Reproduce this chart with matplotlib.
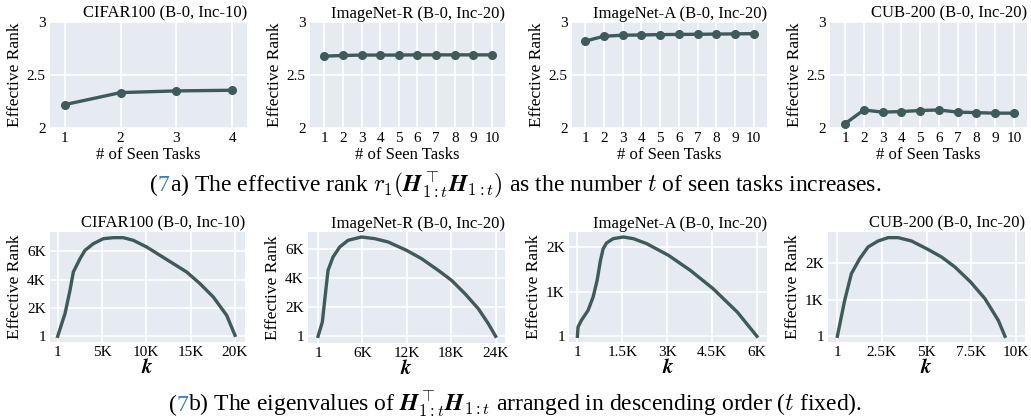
import matplotlib
matplotlib.use('Agg')
import matplotlib.pyplot as plt
from matplotlib.ticker import FixedLocator

plt.rcParams['font.family'] = ['Liberation Serif', 'DejaVu Serif']
plt.rcParams['mathtext.fontset'] = 'cm'

BG = '#e5eaf3'
LINE = '#3e5a5b'

titles = ['CIFAR100 (B-0, Inc-10)', 'ImageNet-R (B-0, Inc-20)',
          'ImageNet-A (B-0, Inc-20)', 'CUB-200 (B-0, Inc-20)']

# top row: effective rank vs number of seen tasks
tasks_cifar = [1, 2, 3, 4]
rank_cifar = [2.22, 2.334, 2.35, 2.356]
tasks_10 = [1, 2, 3, 4, 5, 6, 7, 8, 9, 10]
rank_inr = [2.678, 2.684, 2.688, 2.688, 2.688, 2.69, 2.69, 2.69, 2.69, 2.69]
rank_ina = [2.82, 2.866, 2.875, 2.878, 2.881, 2.883, 2.884, 2.886, 2.888, 2.89]
rank_cub = [2.04, 2.17, 2.15, 2.155, 2.165, 2.17, 2.15, 2.145, 2.14, 2.14]

# bottom row: eigenvalue curves (k, value)
k_cifar = [1, 639, 827, 1391, 1767, 2519, 3083, 4023, 5150, 6278, 7406, 8534,
           10038, 11541, 13045, 14549, 16053, 17556, 19060, 20000]
ev_cifar = [1, 1247, 1600, 3247, 4541, 5482, 6071, 6541, 6894, 6965, 6965, 6776,
            6306, 5718, 5129, 4541, 3718, 2776, 1482, 70]
k_inr = [1, 586, 902, 1353, 2030, 2932, 4060, 5865, 7669, 9474, 11955, 13985,
         16241, 18045, 19850, 21654, 23008, 24000]
ev_inr = [1, 989, 2483, 4552, 5471, 6161, 6621, 6851, 6736, 6506, 5931, 5356,
          4552, 3862, 2943, 1908, 874, 1]
k_ina = [1, 22, 134, 358, 526, 660, 772, 862, 974, 1198, 1534, 1869, 2317, 3045,
         3772, 4534, 5340, 6000]
ev_ina = [1, 209, 358, 582, 881, 1254, 1701, 1963, 2090, 2187, 2224, 2187, 2075,
          1813, 1478, 1067, 545, 1]
k_cub = [1, 412, 787, 1255, 1723, 2285, 2846, 3408, 4157, 5000, 5843, 6592, 7472,
         8277, 9026, 9401]
ev_cub = [1, 982, 1709, 2118, 2436, 2600, 2691, 2691, 2600, 2391, 2164, 1891,
          1482, 1027, 436, 1]

W, H = 1031, 419
fig = plt.figure(figsize=(W / 100, H / 100), dpi=100)

def box(l, t, r, b):
    return [l / W, 1 - b / H, (r - l) / W, (b - t) / H]

def style(ax):
    ax.set_facecolor(BG)
    for s in ax.spines.values():
        s.set_visible(False)
    ax.grid(True, color='white', linewidth=1.2)
    ax.set_axisbelow(True)
    ax.tick_params(length=0, labelsize=11, pad=3)

top_boxes = [(50, 22, 247, 128), (310, 22, 505, 128), (572, 22, 767, 128), (830, 22, 1027, 128)]
top_x = [tasks_cifar, tasks_10, tasks_10, tasks_10]
top_y = [rank_cifar, rank_inr, rank_ina, rank_cub]
top_xlim = [(0.74, 4.26), (0.23, 10.7), (0.29, 10.71), (0.2, 10.7)]
for i in range(4):
    ax = fig.add_axes(box(*top_boxes[i]))
    style(ax)
    ax.plot(top_x[i], top_y[i], color=LINE, linewidth=2.4, marker='o', markersize=5.5)
    ax.set_xlim(*top_xlim[i])
    ax.set_ylim(2, 3)
    ax.set_xticks(top_x[i])
    ax.set_yticks([2, 2.5, 3])
    ax.set_yticklabels(['2', '2.5', '3'])
    ax.set_title(titles[i], fontsize=12, loc='right', pad=3)
    ax.set_ylabel('Effective Rank', fontsize=12.5, labelpad=3)
    ax.set_xlabel('# of Seen Tasks', fontsize=12, labelpad=1)

bot_boxes = [(50, 232, 245, 342), (308, 232, 505, 343), (569, 232, 767, 342), (828, 232, 1025, 342)]
bot_x = [k_cifar, k_inr, k_ina, k_cub]
bot_y = [ev_cifar, ev_inr, ev_ina, ev_cub]
bot_xlim = [(-865, 21128), (-1353, 25263), (-280, 6336), (-524, 10524)]
bot_ylim = [(-400, 7365), (-460, 7195), (-127, 2336), (-155, 2845)]
bot_xt = [[1, 5000, 10000, 15000, 20000], [1, 6000, 12000, 18000, 24000],
          [1, 1500, 3000, 4500, 6000], [1, 2500, 5000, 7500, 10000]]
bot_xl = [['1', '5K', '10K', '15K', '20K'], ['1', '6K', '12K', '18K', '24K'],
          ['1', '1.5K', '3K', '4.5K', '6K'], ['1', '2.5K', '5K', '7.5K', '10K']]
bot_yt = [[1, 2000, 4000, 6000], [1, 2000, 4000, 6000], [1, 1000, 2000], [1, 1000, 2000]]
bot_yl = [['1', '2K', '4K', '6K'], ['1', '2K', '4K', '6K'], ['1', '1K', '2K'], ['1', '1K', '2K']]
for i in range(4):
    ax = fig.add_axes(box(*bot_boxes[i]))
    style(ax)
    ax.plot(bot_x[i], bot_y[i], color=LINE, linewidth=2.4)
    ax.set_xlim(*bot_xlim[i])
    ax.set_ylim(*bot_ylim[i])
    ax.xaxis.set_major_locator(FixedLocator(bot_xt[i]))
    ax.set_xticklabels(bot_xl[i])
    ax.yaxis.set_major_locator(FixedLocator(bot_yt[i]))
    ax.set_yticklabels(bot_yl[i])
    ax.set_title(titles[i], fontsize=12, loc='right', pad=3)
    ax.set_ylabel('Effective Rank', fontsize=12.5, labelpad=3)
    ax.set_xlabel(r'$\boldsymbol{k}$', fontsize=15, labelpad=0)

def caption(y, rest):
    # "(" and "7" (blue, like a link) then the rest, centred as one line
    r = fig.canvas.get_renderer()
    fs = 17
    probe1 = fig.text(0, y, '(', fontsize=fs)
    probe2 = fig.text(0, y, '(7', fontsize=fs)
    probe3 = fig.text(0, y, rest, fontsize=fs)
    w1 = probe1.get_window_extent(r).width
    w2 = probe2.get_window_extent(r).width
    w3 = probe3.get_window_extent(r).width
    for p in (probe1, probe2, probe3):
        p.remove()
    x0 = (W - w2 - w3) / 2
    fig.text(x0 / W, y, '(', fontsize=fs, va='baseline')
    fig.text((x0 + w1) / W, y, '7', fontsize=fs, color='#3b7fc4', va='baseline')
    fig.text((x0 + w2) / W, y, rest, fontsize=fs, va='baseline')

caption(1 - 191 / H, r'a) The effective rank $r_1(\boldsymbol{H}_{1:t}^{\top}\boldsymbol{H}_{1:t})$ as the number $t$ of seen tasks increases.')
caption(1 - 411 / H, r'b) The eigenvalues of $\boldsymbol{H}_{1:t}^{\top}\boldsymbol{H}_{1:t}$ arranged in descending order ($t$ fixed).')

fig.savefig('out.png', dpi=100)
